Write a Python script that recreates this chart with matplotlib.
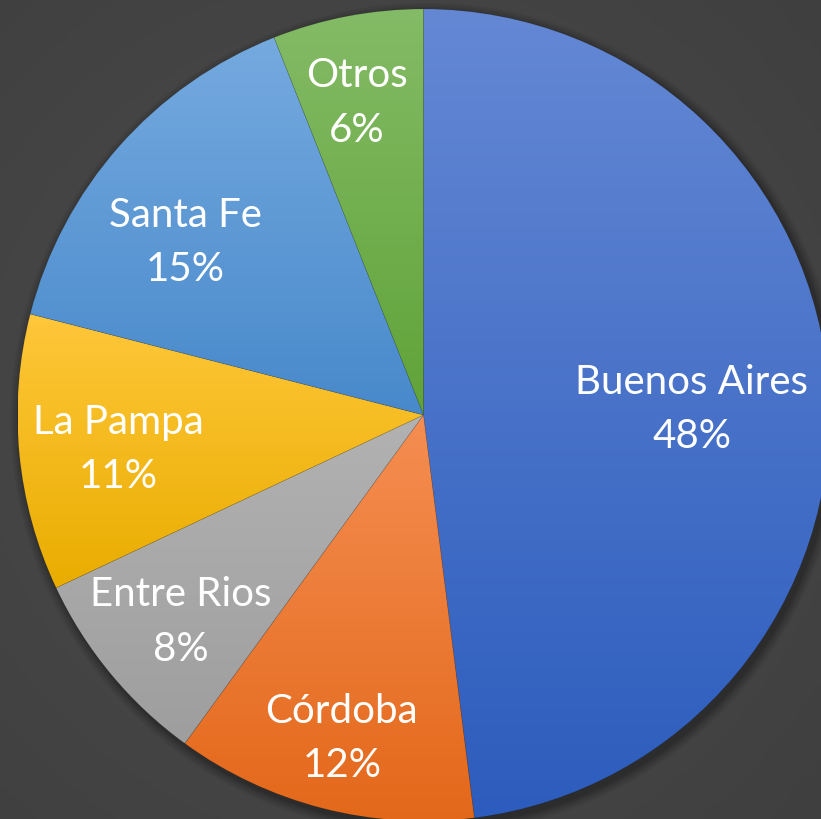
import numpy as np
import matplotlib
matplotlib.use("Agg")
import matplotlib.pyplot as plt
from matplotlib.colors import to_rgb
from matplotlib.patches import Circle

# --------------------------------------------------
# Data
# --------------------------------------------------
provincias = ["Buenos Aires", "Córdoba", "Entre Rios", "La Pampa", "Santa Fe", "Otros"]
porcentajes = [48, 12, 8, 11, 15, 6]

# gradient colours per slice (top, bottom)
colores_top = ["#6488D4", "#F58E52", "#B2B2B2", "#FFC73A", "#75AADF", "#84BB66"]
colores_bot = ["#2C5CBD", "#E3681A", "#9E9E9E", "#E9AD00", "#4889CB", "#60A338"]

# label placement: radial distance (fraction of radius) and angle shift (deg)
label_dist = [0.661, 0.82, 0.785, 0.756, 0.725, 0.788]
label_shift = [-2.2, 0.2, 0.7, 0.9, 5.3, 1.2]

W, H = 821, 820
CX, CY, R = 423.5, 404, 406

# --------------------------------------------------
# Figure
# --------------------------------------------------
fig = plt.figure(figsize=(W / 100, H / 100), dpi=100)

# background: dark gray, slightly lighter in the middle
bg = fig.add_axes([0, 0, 1, 1])
yy, xx = np.mgrid[0:1:200j, 0:1:200j]
dist = np.sqrt((xx - 0.45) ** 2 + (yy - 0.5) ** 2)
shade = 0.30 - 0.07 * dist
bg.imshow(np.dstack([shade, shade, shade]), extent=(0, 1, 0, 1), aspect="auto")
bg.axis("off")

ax = fig.add_axes([0, 0, 1, 1])
ax.set_facecolor("none")

# soft shadow below the pie
for i, a in enumerate([0.05, 0.05, 0.06, 0.08, 0.10]):
    ax.add_patch(Circle((CX + 3, CY - 4), R + 10 - 2 * i, color="black",
                        alpha=a, lw=0, zorder=0))

wedges, _ = ax.pie(porcentajes, startangle=90, counterclock=False,
                   center=(CX, CY), radius=R,
                   wedgeprops=dict(linewidth=0.5, edgecolor=(0, 0, 0, 0.09)))

# vertical gradient fill inside each wedge
for w, c0, c1 in zip(wedges, colores_top, colores_bot):
    ext = w.get_path().get_extents()
    t = np.linspace(0, 1, 256)[:, None]
    grad = (1 - t) * np.array(to_rgb(c0)) + t * np.array(to_rgb(c1))
    w.set_facecolor("none")
    w.set_zorder(2)
    im = ax.imshow(grad[:, None, :], extent=(ext.x0, ext.x1, ext.y0, ext.y1),
                   aspect="auto", interpolation="bilinear", zorder=1)
    im.set_clip_path(w)

# labels
for w, name, pct, d, s in zip(wedges, provincias, porcentajes, label_dist, label_shift):
    ang = np.deg2rad((w.theta1 + w.theta2) / 2 + s)
    x = CX + d * R * np.cos(ang)
    y = CY + d * R * np.sin(ang)
    ax.text(x, y, f"{name}\n{pct}%", ha="center", va="center", color="white",
            fontsize=29, family="Lato", linespacing=1.58, zorder=3)

ax.set_xlim(0, W)
ax.set_ylim(0, H)
ax.set_aspect("auto")
ax.axis("off")

plt.savefig("out.png", dpi=100)
